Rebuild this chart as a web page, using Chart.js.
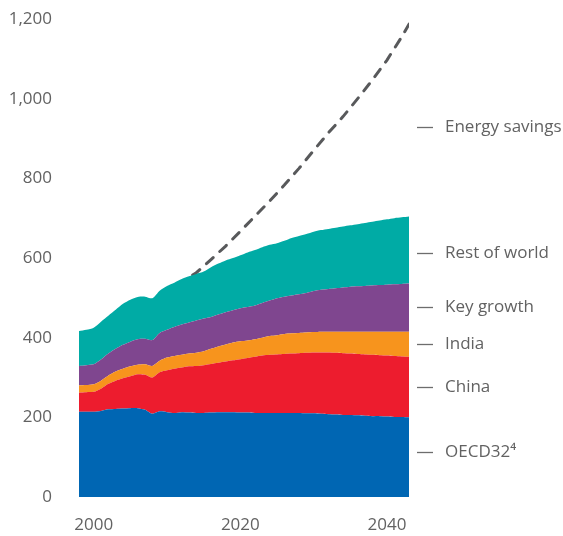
<!DOCTYPE html>
<html>
<head>
<meta charset="utf-8">
<script src="https://cdn.jsdelivr.net/npm/chart.js@4"></script>
<style>
  html, body { margin: 0; padding: 0; background: #fff; }
  #wrap { width: 563px; height: 536px; }
</style>
</head>
<body>
<div id="wrap"><canvas id="chart" width="563" height="536"></canvas></div>
<script>
const years = [1998, 1999, 2000, 2001, 2002, 2003, 2004, 2005, 2006, 2007, 2008, 2009, 2010,
    2011, 2012, 2013, 2014, 2015, 2016, 2017, 2018, 2019, 2020, 2021, 2022, 2023, 2024, 2025,
    2026, 2027, 2028, 2029, 2030, 2031, 2032, 2033, 2034, 2035, 2036, 2037, 2038, 2039, 2040,
    2041, 2042, 2043];

const oecd = [214, 214, 214, 216, 220, 221, 222, 223, 223, 219, 209, 215, 213,
    211, 213, 212, 211, 211, 212, 213, 213, 213, 212, 212, 211, 211, 211, 211,
    211, 211, 211, 210, 210, 209, 208, 207, 206, 206, 205, 204, 203, 203, 202,
    201, 201, 200];
const china = [48, 49, 50, 56, 64, 71, 76, 80, 85, 88, 91, 98, 105,
    111, 112, 116, 118, 120, 122, 124, 127, 130, 134, 137, 141, 144, 146, 147,
    148, 149, 150, 152, 153, 154, 155, 155, 155, 154, 154, 154, 154, 153, 153,
    153, 152, 152];
const india = [18, 18, 19, 20, 21, 23, 24, 25, 24, 26, 29, 29, 32,
    32, 32, 32, 33, 35, 38, 41, 43, 45, 45, 44, 44, 45, 47, 48,
    50, 51, 51, 51, 51, 52, 52, 53, 54, 55, 56, 57, 58, 59, 60,
    61, 62, 63];
const keyGrowth = [49, 50, 50, 53, 55, 57, 60, 62, 64, 64, 65, 70, 70,
    73, 76, 78, 81, 82, 80, 80, 81, 81, 83, 84, 85, 87, 89, 93,
    94, 95, 97, 99, 103, 105, 107, 109, 111, 113, 114, 115, 116, 117, 118,
    119, 120, 121];
const restOfWorld = [88, 89, 92, 95, 95, 98, 103, 105, 106, 106, 105, 106, 110,
    111, 114, 116, 117, 118, 125, 128, 130, 131, 133, 137, 139, 140, 140, 138,
    140, 144, 146, 148, 149, 150, 151, 152, 153, 154, 156, 158, 160, 162, 164,
    166, 167, 168];

// energy savings line (total demand without savings)
const savingsYears = [2013.5, 2014, 2016, 2018, 2020, 2022, 2024, 2026, 2028, 2030, 2032, 2034, 2036, 2038, 2040, 2042, 2043];
const savingsValues = [557, 563, 596, 630, 667, 705, 743, 783, 825, 870, 914, 955, 1000, 1047, 1097, 1155, 1187];

const xTicks = [2000, 2020, 2040];
const yTicks = [0, 200, 400, 600, 800, 1000, 1200];

const seriesNames = ['OECD32\u2074', 'China', 'India', 'Key growth', 'Rest of world'];
const seriesColors = ['#0066b3', '#ed1c2e', '#f7941d', '#7f468f', '#00aba5'];
// value where each right-hand label sits
const labelAt = [113, 276, 383, 476, 612, 930];

const textColor = '#626262';
const fontFamily = '"Open Sans", "Noto Sans", sans-serif';

const toPoints = (xs, ys) => xs.map((x, i) => ({ x: x, y: ys[i] }));

const areaData = [oecd, china, india, keyGrowth, restOfWorld];
const datasets = areaData.map((vals, i) => ({
    label: seriesNames[i],
    data: toPoints(years, vals),
    backgroundColor: seriesColors[i],
    borderColor: seriesColors[i],
    borderWidth: 0,
    pointRadius: 0,
    tension: 0.25,
    fill: i === 0 ? 'origin' : '-1',
    stack: 'demand'
}));
datasets.push({
    label: 'Energy savings',
    data: toPoints(savingsYears, savingsValues),
    borderColor: '#58595b',
    borderWidth: 3,
    borderDash: [9, 9],
    borderCapStyle: 'round',
    pointRadius: 0,
    tension: 0,
    fill: false,
    stack: 'savings'
});

// right hand labels
const sideLabels = {
    id: 'sideLabels',
    afterDraw(chart) {
        const ctx = chart.ctx;
        const y = chart.scales.y;
        const names = seriesNames.concat(['Energy savings']);
        ctx.save();
        ctx.font = '17px ' + fontFamily;
        ctx.fillStyle = textColor;
        ctx.strokeStyle = '#6d6d6d';
        ctx.lineWidth = 1.3;
        ctx.textBaseline = 'middle';
        names.forEach((name, i) => {
            const py = Math.round(y.getPixelForValue(labelAt[i])) + 0.5;
            ctx.beginPath();
            ctx.moveTo(417, py);
            ctx.lineTo(433, py);
            ctx.stroke();
            ctx.fillText(name, 445, py);
        });
        ctx.restore();
    }
};

new Chart(document.getElementById('chart').getContext('2d'), {
    type: 'line',
    data: { datasets: datasets },
    options: {
        responsive: false,
        animation: false,
        layout: { padding: { top: 19, right: 154, left: 0, bottom: 0 } },
        plugins: { legend: { display: false }, tooltip: { enabled: false } },
        scales: {
            x: {
                type: 'linear',
                min: 1998,
                max: 2043,
                grid: { display: false },
                border: { display: false },
                afterBuildTicks: (scale) => { scale.ticks = xTicks.map(v => ({ value: v })); },
                afterFit: (scale) => { scale.height = 39; },
                ticks: {
                    color: textColor,
                    padding: 10,
                    maxRotation: 0,
                    font: { family: fontFamily, size: 17 },
                    callback: (v) => String(v)
                }
            },
            y: {
                min: 0,
                max: 1200,
                stacked: true,
                grid: { display: false },
                border: { display: false },
                afterBuildTicks: (scale) => { scale.ticks = yTicks.map(v => ({ value: v })); },
                afterFit: (scale) => {
                    scale.width = 79;
                    scale.paddingTop = 0;
                    scale.paddingBottom = 0;
                },
                ticks: {
                    color: textColor,
                    padding: 19,
                    font: { family: fontFamily, size: 17 },
                    callback: (v) => v.toLocaleString('en-US')
                }
            }
        }
    },
    plugins: [sideLabels]
});
</script>
</body>
</html>
